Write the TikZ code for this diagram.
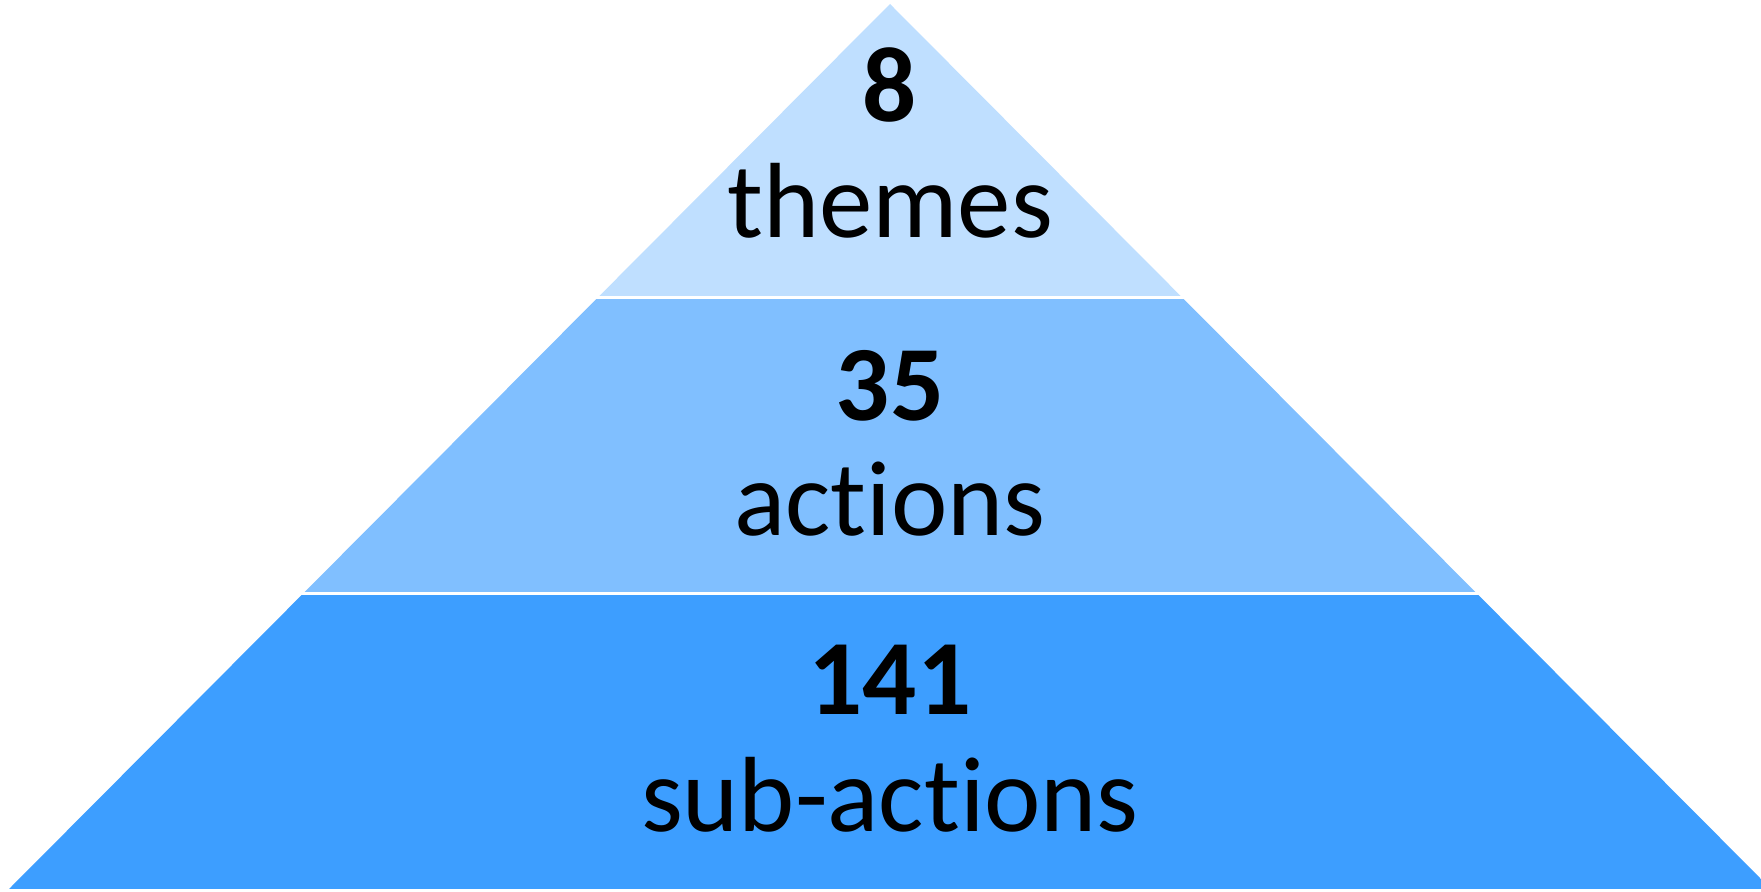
\documentclass[tikz,border=0pt]{standalone}
\usepackage{fontspec}
\setmainfont{Carlito}[Ligatures=NoCommon]
\definecolor{tierone}{RGB}{191,223,255}
\definecolor{tiertwo}{RGB}{128,191,255}
\definecolor{tierthree}{RGB}{61,158,255}
\tikzset{
  countlabel/.style={anchor=base,inner sep=0pt,font=\fontsize{30.4}{36}\selectfont\bfseries},
  namelabel/.style={anchor=base,inner sep=0pt,font=\fontsize{30.4}{36}\selectfont},
}
\begin{document}
\begin{tikzpicture}[x=0.01cm,y=-0.01cm]
\useasboundingbox (0,0) rectangle (1761,891);
\clip (0,0) rectangle (1761,891);
\coordinate (apex) at (890,4);
\coordinate (baseleft) at (9,889);
\coordinate (baseright) at (1771,889);
\begin{scope}
\clip (apex) -- (baseleft) -- (baseright) -- cycle;
\fill [tierone] (0,0) rectangle (1800,296);
\fill [tiertwo] (0,299) rectangle (1800,592);
\fill [tierthree] (0,595) rectangle (1800,889);
\end{scope}
\node [countlabel] (themesnum) at (890,122) {8};
\node [namelabel] (themes) at (890,238) {themes};
\node [countlabel] (actionsnum) at (890,420) {35};
\node [namelabel] (actions) at (890,535) {actions};
\node [countlabel] (subnum) at (890,714) {141};
\node [namelabel] (subactions) at (890,831) {sub-actions};
\end{tikzpicture}
\end{document}
